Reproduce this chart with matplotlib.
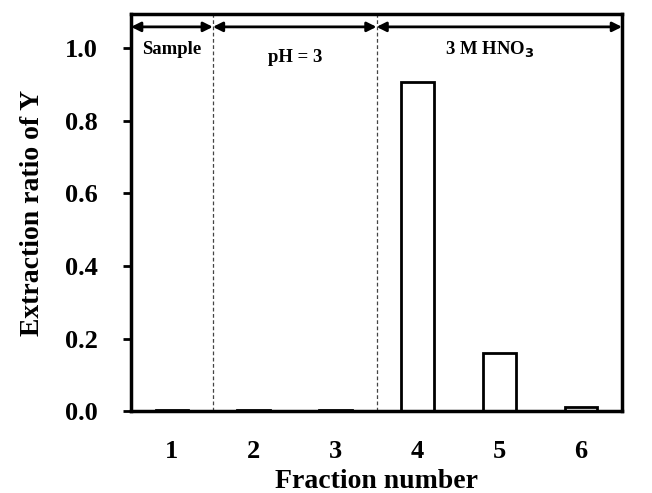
import matplotlib.pyplot as plt
import numpy as np

plt.rcParams['font.family'] = ['Liberation Serif', 'DejaVu Serif']
plt.rcParams['font.weight'] = 'bold'

fractions = [1, 2, 3, 4, 5, 6]
ratios = [0.003, 0.003, 0.003, 0.906, 0.16, 0.012]

# regions: (start, end, label)
region_bounds = [0.5, 1.5, 3.5, 6.5]
region_labels = ['Sample', 'pH = 3', '3 M HNO$_\\mathbf{3}$']
label_y = [0.995, 0.975, 0.995]

fig, ax = plt.subplots(figsize=(6.52, 4.93), dpi=100)
fig.subplots_adjust(left=0.201, right=0.954, top=0.972, bottom=0.166)

ax.bar(fractions, ratios, width=0.4, color='white', edgecolor='black', linewidth=2)

ax.set_xlim(0.5, 6.5)
ax.set_ylim(0, 1.094)
yt = np.arange(0, 1.01, 0.2)
ax.set_yticks(yt)
ax.set_yticklabels([f'{v:.1f}' for v in yt], fontsize=19, fontweight='bold')
ax.set_xticks(fractions)
ax.set_xticklabels([str(f) for f in fractions], fontsize=19, fontweight='bold')
ax.tick_params(axis='x', length=0, pad=21)
ax.tick_params(axis='y', direction='out', length=6, width=2, pad=18)

for s in ax.spines.values():
    s.set_linewidth(2.5)

# dashed separators
for xb in region_bounds[1:-1]:
    ax.axvline(xb, color='#444444', linestyle='--', linewidth=0.9, dashes=(3, 2))

# double arrows + labels
for i in range(3):
    x0, x1 = region_bounds[i], region_bounds[i + 1]
    ax.annotate('', xy=(x0, 1.058), xytext=(x1, 1.058),
                arrowprops=dict(arrowstyle='<|-|>', color='black', lw=2,
                                mutation_scale=14, shrinkA=0, shrinkB=0))
    ax.text((x0 + x1) / 2 - (0.12 if i == 2 else 0), label_y[i], region_labels[i],
            ha='center', va='center', fontsize=13.5, fontweight='bold')

ax.set_xlabel('Fraction number', fontsize=20, fontweight='bold', labelpad=4)
ax.set_ylabel('Extraction ratio of Y', fontsize=20, fontweight='bold', labelpad=14)

plt.savefig('out.png', dpi=100)
